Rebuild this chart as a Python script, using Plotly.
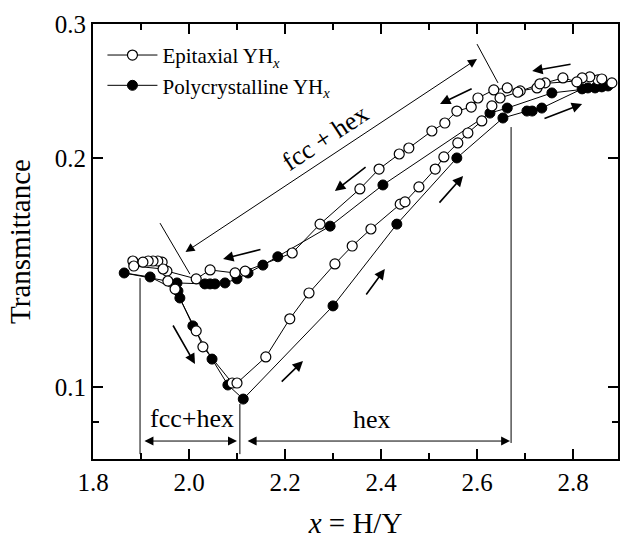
import math
import plotly.graph_objects as go

# ---------------- data ----------------
# Epitaxial YHx (open circles), in measurement order
epi_x = [2.881, 2.852, 2.835, 2.819, 2.808, 2.779, 2.742, 2.725, 2.690, 2.663,
         2.635, 2.602, 2.588, 2.558, 2.533, 2.506, 2.458, 2.438, 2.396, 2.356,
         2.273, 2.215, 2.117, 2.096, 2.044, 2.015,
         1.954, 1.944, 1.935, 1.925, 1.915, 1.904, 1.883, 1.885, 1.946,
         1.956, 1.971, 2.015, 2.029, 2.090, 2.100,
         2.160, 2.210, 2.250, 2.304, 2.340, 2.379, 2.440, 2.450, 2.479, 2.513,
         2.531, 2.560, 2.581, 2.610, 2.631, 2.648, 2.685, 2.731, 2.860]
epi_y = [0.2510, 0.2533, 0.2556, 0.2548, 0.2518, 0.2548, 0.2510, 0.2472, 0.2450, 0.2472,
         0.2457, 0.2398, 0.2333, 0.2305, 0.2223, 0.2170, 0.2061, 0.2024, 0.1934, 0.1821,
         0.1637, 0.1500, 0.1420, 0.1412, 0.1425, 0.1387,
         0.1420, 0.1459, 0.1464, 0.1464, 0.1464, 0.1459, 0.1464, 0.1442, 0.1429,
         0.1378, 0.1345, 0.1185, 0.1129, 0.1012, 0.1012,
         0.1095, 0.1229, 0.1329, 0.1451, 0.1532, 0.1613, 0.1739, 0.1751, 0.1832, 0.1934,
         0.2006, 0.2093, 0.2157, 0.2237, 0.2341, 0.2398, 0.2440, 0.2503, 0.2540]

# Polycrystalline YHx (filled circles), in measurement order
poly_x = [2.873, 2.860, 2.846, 2.756, 2.663, 2.627, 2.404, 2.294, 2.185, 2.154,
          2.123, 2.100, 2.075, 2.054, 2.044, 2.033, 1.975, 1.865, 1.919,
          1.977, 1.981, 2.008, 2.048, 2.081, 2.113,
          2.300, 2.433, 2.558, 2.654, 2.704, 2.715, 2.735, 2.819, 2.831]
poly_y = [0.2487, 0.2480, 0.2472, 0.2435, 0.2326, 0.2291, 0.1843, 0.1627, 0.1483, 0.1446,
          0.1412, 0.1387, 0.1370, 0.1366, 0.1366, 0.1366, 0.1370, 0.1412, 0.1395,
          0.1337, 0.1309, 0.1203, 0.1088, 0.1006, 0.0964,
          0.1278, 0.1637, 0.2000, 0.2257, 0.2305, 0.2305, 0.2326, 0.2465, 0.2472]

x_ticks = [1.8, 2.0, 2.2, 2.4, 2.6, 2.8]
x_tick_labels = ["1.8", "2.0", "2.2", "2.4", "2.6", "2.8"]
x_minor = [1.9, 2.1, 2.3, 2.5, 2.7, 2.9]
y_ticks = [0.1, 0.2, 0.3]
y_tick_labels = ["0.1", "0.2", "0.3"]
y_minor = [0.09]

# phase boundaries and small direction arrows (data units: x, transmittance)
phase_x = [1.898, 2.106, 2.671]
phase_y_top = [0.1390, 0.0950, 0.2196]
phase_y_bottom = [0.0816, 0.0816, 0.0844]

dir_tail_x = [2.798, 2.592, 2.371, 2.519, 2.7375, 2.152, 1.965, 2.190, 2.367]
dir_tail_y = [0.2658, 0.2472, 0.1952, 0.1739, 0.2250, 0.1518, 0.1210, 0.1012, 0.1317]
dir_head_x = [2.715, 2.523, 2.304, 2.571, 2.819, 2.071, 2.0125, 2.2375, 2.408]
dir_head_y = [0.2602, 0.2355, 0.1810, 0.1894, 0.2355, 0.1473, 0.1072, 0.1082, 0.1429]

FONT = "Liberation Serif"

fig = go.Figure()
fig.add_trace(go.Scatter(
    x=poly_x, y=poly_y, mode="lines+markers",
    name="Polycrystalline YH<sub><i>x</i></sub>",
    line=dict(color="black", width=1),
    marker=dict(symbol="circle", size=10, color="black",
                line=dict(color="black", width=1))))
fig.add_trace(go.Scatter(
    x=epi_x, y=epi_y, mode="lines+markers",
    name="Epitaxial YH<sub><i>x</i></sub>",
    line=dict(color="black", width=1),
    marker=dict(symbol="circle", size=10, color="white",
                line=dict(color="black", width=1.2))))


def L(v):
    return math.log10(v)


def arrow(x0, y0, x1, y1, width=1.0, both=False, size=1.6):
    fig.add_annotation(
        x=x1, y=L(y1), ax=x0, ay=L(y0),
        xref="x", yref="y", axref="x", ayref="y",
        text="", showarrow=True, arrowhead=2, arrowsize=size,
        arrowwidth=width, arrowcolor="black",
        arrowside="end+start" if both else "end",
        standoff=0, startstandoff=0)


# phase boundary vertical lines
for px, yt, yb in zip(phase_x, phase_y_top, phase_y_bottom):
    fig.add_shape(type="line", x0=px, x1=px, y0=yb, y1=yt,
                  xref="x", yref="y", line=dict(color="black", width=1))

# short marker lines at the ends of the "fcc + hex" arrow
fig.add_shape(type="line", x0=1.9396, x1=2.002, y0=0.1642, y1=0.1407,
              line=dict(color="black", width=1))
fig.add_shape(type="line", x0=2.600, x1=2.6437, y0=0.2823, y1=0.2510,
              line=dict(color="black", width=1))

# range arrows
arrow(1.9896, 0.150, 2.600, 0.2698, width=1.0, both=True, size=1.8)
arrow(1.904, 0.0849, 2.100, 0.0849, width=1.0, both=True, size=1.8)
arrow(2.119, 0.0849, 2.669, 0.0849, width=1.0, both=True, size=1.8)

# direction arrows
for tx, ty, hx, hy in zip(dir_tail_x, dir_tail_y, dir_head_x, dir_head_y):
    arrow(tx, ty, hx, hy, width=1.6, size=1.3)

# labels
fig.add_annotation(x=2.285, y=L(0.2125), text="fcc + hex", showarrow=False,
                   textangle=-33.5, font=dict(family=FONT, size=26, color="black"))
fig.add_annotation(x=2.006, y=L(0.0908), text="fcc+hex", showarrow=False,
                   font=dict(family=FONT, size=26, color="black"))
fig.add_annotation(x=2.381, y=L(0.0905), text="hex", showarrow=False,
                   font=dict(family=FONT, size=26, color="black"))

fig.update_layout(
    width=621, height=539,
    margin=dict(l=93, r=3, t=24, b=80, autoexpand=False),
    paper_bgcolor="white", plot_bgcolor="white",
    font=dict(family=FONT, size=25, color="black"),
    showlegend=True,
    legend=dict(x=0.018, y=0.975, xanchor="left", yanchor="top",
                bgcolor="rgba(0,0,0,0)", borderwidth=0, itemwidth=50,
                font=dict(family=FONT, size=21, color="black"),
                traceorder="reversed", tracegroupgap=0),
)

fig.update_xaxes(
    range=[1.8, 2.89375], showgrid=False, zeroline=False, automargin=False,
    showline=True, linecolor="black", linewidth=2, mirror="ticks",
    ticks="inside", ticklen=10, tickwidth=2, tickcolor="black",
    tickvals=x_ticks, ticktext=x_tick_labels,
    tickfont=dict(family=FONT, size=25),
    minor=dict(tickvals=x_minor, ticks="inside", ticklen=6, tickwidth=2,
               tickcolor="black", showgrid=False),
    title=dict(text="<i>x</i> = H/Y", font=dict(family=FONT, size=29), standoff=24),
)
fig.update_yaxes(
    type="log", range=[-1.0947, -0.5229], showgrid=False, zeroline=False,
    automargin=False,
    showline=True, linecolor="black", linewidth=2, mirror="ticks",
    ticks="inside", ticklen=10, tickwidth=2, tickcolor="black",
    tickvals=y_ticks, ticktext=y_tick_labels,
    tickfont=dict(family=FONT, size=25),
    minor=dict(tickvals=y_minor, ticks="inside", ticklen=6, tickwidth=2,
               tickcolor="black", showgrid=False),
    title=dict(text="Transmittance", font=dict(family=FONT, size=29), standoff=16),
)

fig.write_html("out.html")
